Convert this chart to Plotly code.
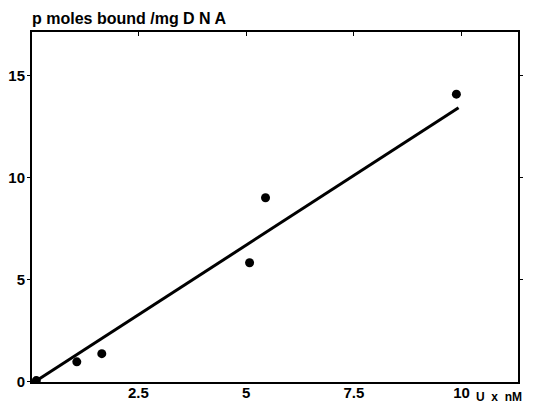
import plotly.graph_objects as go

# Data
conc_x = [0.13, 1.07, 1.65, 5.08, 5.45, 9.88]
bound_y = [0.05, 0.97, 1.37, 5.83, 9.02, 14.10]
fit_x = [0.14, 9.93]
fit_y = [0.05, 13.43]
x_tickvals = [2.5, 5, 7.5, 10]
x_ticktext = ["2.5", "5", "7.5", "10"]
y_tickvals = [0, 5, 10, 15]
y_ticktext = ["0", "5", "10", "15"]

FONT = "Liberation Sans, Arial, sans-serif"

fig = go.Figure()
fig.add_trace(go.Scatter(x=fit_x, y=fit_y, mode="lines",
                         line=dict(color="black", width=3), showlegend=False))
fig.add_trace(go.Scatter(x=conc_x, y=bound_y, mode="markers",
                         marker=dict(color="black", size=9), showlegend=False))
# invisible trace to activate top/right axes
fig.add_trace(go.Scatter(x=[None], y=[None], xaxis="x2", yaxis="y2", showlegend=False))

xr = [0.03, 11.31]
yr = [-0.02, 17.15]

bold = lambda s: "<b>" + s + "</b>"

fig.update_layout(
    width=535, height=403,
    margin=dict(l=24, r=25, t=24, b=29),
    paper_bgcolor="white", plot_bgcolor="white",
    font=dict(family=FONT, color="black"),
    xaxis=dict(range=xr, tickvals=x_tickvals, ticktext=[bold(t) for t in x_ticktext],
               automargin=False,
               showgrid=False, zeroline=False, showline=True, linecolor="black",
               linewidth=2, ticks="", ticklen=0,
               tickfont=dict(family=FONT, size=15, color="black"), ticklabelstandoff=-4),
    yaxis=dict(range=yr, tickvals=y_tickvals, ticktext=[bold(t) for t in y_ticktext],
               automargin=False,
               showgrid=False, zeroline=False, showline=True, linecolor="black",
               linewidth=2, ticks="outside", ticklen=3, tickwidth=1, tickcolor="black",
               tickfont=dict(family=FONT, size=15, color="black"), ticklabelstandoff=-1),
    xaxis2=dict(range=xr, overlaying="x", side="top", tickvals=x_tickvals,
                automargin=False,
                showticklabels=False, showgrid=False, zeroline=False, showline=True,
                linecolor="black", linewidth=2, ticks="inside", ticklen=4,
                tickwidth=1, tickcolor="black"),
    yaxis2=dict(range=yr, overlaying="y", side="right", tickvals=y_tickvals[1:],
                automargin=False,
                showticklabels=False, showgrid=False, zeroline=False, showline=True,
                linecolor="black", linewidth=2, ticks="outside", ticklen=3,
                tickwidth=1, tickcolor="black"),
    annotations=[
        dict(text="<b>p moles bound /mg D N A</b>", xref="paper", yref="paper",
             x=0, y=1, xanchor="left", yanchor="bottom", yshift=3, xshift=-2,
             showarrow=False, font=dict(family=FONT, size=16, color="black")),
        dict(text="<b>U&nbsp; x&nbsp; nM</b>", xref="paper", yref="paper",
             x=1, y=0, xanchor="right", yanchor="top", yshift=-6, xshift=6,
             showarrow=False, font=dict(family=FONT, size=12, color="black")),
    ],
)

fig.write_html("out.html")
